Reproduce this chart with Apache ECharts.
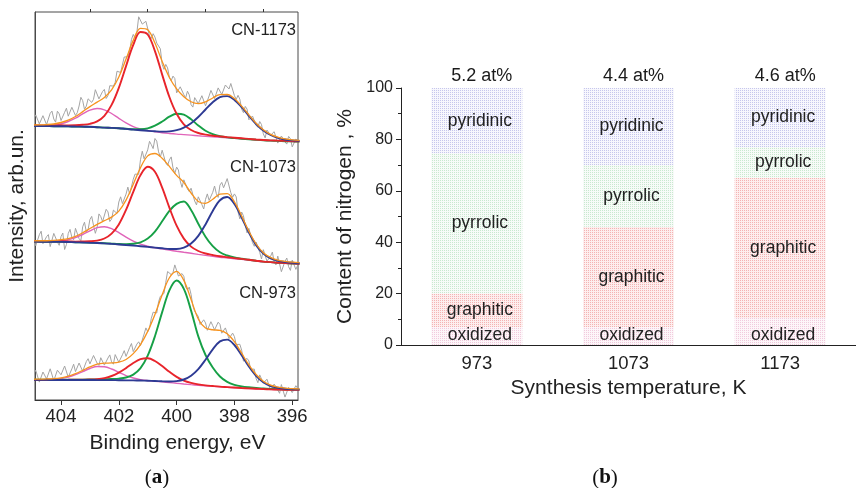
<!DOCTYPE html>
<html>
<head>
<meta charset="utf-8">
<script src="https://cdn.jsdelivr.net/npm/echarts@6/dist/echarts.min.js"></script>
<style>
  html, body { margin: 0; padding: 0; background: #ffffff; }
  #chart { width: 856px; height: 488px; }
</style>
</head>
<body>
<div id="chart"></div>
<script>
// ---------- (a) N 1s XPS spectra ----------
// Binding energy grid of the fitted curves (eV)
const energyFit = [405, 404.75, 404.5, 404.25, 404, 403.75, 403.5, 403.25, 403, 402.75, 402.5, 402.25, 402,
  401.75, 401.5, 401.25, 401, 400.75, 400.5, 400.25, 400, 399.75, 399.5, 399.25, 399, 398.75, 398.5, 398.25,
  398, 397.75, 397.5, 397.25, 397, 396.75, 396.5, 396.25, 396, 395.75];

// Binding energy grid of the measured spectra (eV)
const energyRaw = [405, 404.9375, 404.875, 404.8125, 404.75, 404.6875, 404.625, 404.5625, 404.5, 404.4375,
  404.375, 404.3125, 404.25, 404.1875, 404.125, 404.0625, 404, 403.9375, 403.875, 403.8125, 403.75, 403.6875,
  403.625, 403.5625, 403.5, 403.4375, 403.375, 403.3125, 403.25, 403.1875, 403.125, 403.0625, 403, 402.9375,
  402.875, 402.8125, 402.75, 402.6875, 402.625, 402.5625, 402.5, 402.4375, 402.375, 402.3125, 402.25, 402.1875,
  402.125, 402.0625, 402, 401.9375, 401.875, 401.8125, 401.75, 401.6875, 401.625, 401.5625, 401.5, 401.4375,
  401.375, 401.3125, 401.25, 401.1875, 401.125, 401.0625, 401, 400.9375, 400.875, 400.8125, 400.75, 400.6875,
  400.625, 400.5625, 400.5, 400.4375, 400.375, 400.3125, 400.25, 400.1875, 400.125, 400.0625, 400, 399.9375,
  399.875, 399.8125, 399.75, 399.6875, 399.625, 399.5625, 399.5, 399.4375, 399.375, 399.3125, 399.25, 399.1875,
  399.125, 399.0625, 399, 398.9375, 398.875, 398.8125, 398.75, 398.6875, 398.625, 398.5625, 398.5, 398.4375,
  398.375, 398.3125, 398.25, 398.1875, 398.125, 398.0625, 398, 397.9375, 397.875, 397.8125, 397.75, 397.6875,
  397.625, 397.5625, 397.5, 397.4375, 397.375, 397.3125, 397.25, 397.1875, 397.125, 397.0625, 397, 396.9375,
  396.875, 396.8125, 396.75, 396.6875, 396.625, 396.5625, 396.5, 396.4375, 396.375, 396.3125, 396.25, 396.1875,
  396.125, 396.0625, 396, 395.9375, 395.875, 395.8125, 395.75];

// CN-1173 (stacked on top, arb. units)
const bg1173 = [274, 273.9, 273.8, 273.7, 273.7, 273.5, 273.3, 273.2, 273.0, 272.6, 272.2, 271.9, 271.5, 270.8,
  270.0, 269.3, 268.5, 267.8, 267.0, 266.3, 265.7, 265.2, 264.7, 264.1, 263.5, 263.0, 262.5, 262.0, 261.5,
  261.0, 260.5, 260.0, 259.5, 259.2, 259.0, 258.7, 258.5, 258.3];
const oxid1173 = [0.3, 0.4, 0.7, 1.3, 2.6, 5.0, 8.5, 12.9, 16.9, 18.9, 18.0, 14.6, 10.2, 6.3, 3.4, 1.7, 0.9, 0.5,
  0.3, 0.25, 0.2, 0.2, 0.15, 0.1, 0.1, 0.1, 0.1, 0.1, 0.1, 0.1, 0.1, 0.1, 0.1, 0.1, 0.1, 0.1, 0.1, 0.1];
const graph1173 = [0.5, 0.6, 0.7, 0.8, 1.0, 1.1, 1.4, 2.0, 3.2, 6.0, 12.0, 23.2, 40.7, 63.1, 85.1, 98.7, 97.0,
  81.1, 58.4, 36.7, 20.5, 10.5, 5.3, 2.9, 1.9, 1.3, 1.1, 0.9, 0.8, 0.7, 0.6, 0.5, 0.5, 0.4, 0.4, 0.4, 0.3, 0.3];
const pyrr1173 = [0.1, 0.1, 0.1, 0.1, 0.1, 0.1, 0.1, 0.1, 0.1, 0.2, 0.2, 0.2, 0.3, 0.4, 0.7, 1.5, 3.2, 6.6, 11.5,
  17.0, 20.6, 20.2, 16.0, 10.4, 5.7, 2.8, 1.3, 0.6, 0.4, 0.3, 0.25, 0.2, 0.2, 0.15, 0.15, 0.1, 0.1, 0.1];
const pyri1173 = [0.1, 0.1, 0.1, 0.1, 0.1, 0.1, 0.15, 0.15, 0.2, 0.2, 0.2, 0.25, 0.3, 0.35, 0.4, 0.5, 0.7, 0.9,
  1.4, 2.3, 4.1, 7.2, 12.1, 18.9, 27.0, 34.8, 40.4, 41.9, 38.6, 31.8, 23.7, 16.0, 9.9, 5.8, 3.2, 1.8, 1.1, 0.8];
const raw1173 = [278, 276.6, 285.1, 284.6, 276.1, 274.2, 284.3, 282.9, 275.4, 277.1, 286.7, 288.9, 281, 277.9,
  288.8, 286.2, 279.5, 280.6, 287.7, 291.8, 283.8, 283.3, 292.7, 292.6, 284.5, 287.3, 294, 302.7, 299.4, 290.7,
  293.9, 301.2, 302.4, 297.6, 300.7, 310.3, 309.9, 301.1, 302.3, 308.5, 310.6, 301.5, 304.4, 314.3, 316.2,
  313.9, 317.6, 328.8, 330, 327.5, 329, 343, 345, 343.2, 349.3, 360.5, 365.6, 361.7, 367.7, 383.2, 384.7,
  375.9, 375, 378.7, 378.3, 364, 361.6, 366.3, 362.9, 356.9, 356.8, 351.2, 335.6, 330.6, 335.6, 332.1, 322.6,
  319.3, 323.9, 321.5, 307.1, 308.2, 313.2, 313.3, 305.3, 302.1, 308.8, 305.1, 295.3, 292.9, 302.4, 303.4,
  296.4, 297.4, 304.3, 304.3, 294.2, 295.2, 304.1, 309.6, 311, 301.4, 301.7, 312.1, 310.4, 305.5, 306.5, 315,
  315.5, 311, 316.5, 317.5, 304.4, 300.6, 304.7, 300.8, 290.9, 287.3, 293.6, 290.9, 280.2, 279.1, 284, 284.4,
  274.8, 272.7, 278.5, 275.4, 266.2, 262.1, 270, 271.4, 264.7, 263.5, 268.3, 267.6, 256.9, 258.5, 264, 265.1,
  258.1, 255.9, 263.6, 261.4, 253.1, 253, 260.9, 261.3, 257.6];

// CN-1073 (middle)
const bg1073 = [158.3, 158.2, 158.1, 158.0, 158.0, 157.8, 157.5, 157.3, 157.0, 156.7, 156.3, 155.8, 155.2, 154.6,
  154.0, 153.3, 152.5, 151.6, 150.7, 149.6, 148.5, 147.5, 146.5, 145.5, 144.5, 143.6, 142.7, 142.0, 141.2,
  140.5, 139.7, 138.8, 138.0, 137.5, 137.0, 136.7, 136.3, 136.0];
const oxid1073 = [0.25, 0.3, 0.4, 0.6, 1.3, 2.5, 4.8, 8.2, 12.2, 15.6, 17.0, 15.6, 12.2, 8.2, 4.8, 2.5, 1.3, 0.6,
  0.4, 0.3, 0.25, 0.2, 0.2, 0.15, 0.15, 0.1, 0.1, 0.1, 0.1, 0.1, 0.1, 0.1, 0.1, 0.1, 0.1, 0.1, 0.1, 0.1];
const graph1073 = [0.4, 0.5, 0.5, 0.6, 0.7, 0.8, 0.9, 1.2, 1.7, 2.7, 5.2, 10.6, 20.4, 35.5, 54.2, 71.6, 80.8,
  76.7, 61.7, 42.7, 25.8, 13.9, 6.9, 3.5, 2.0, 1.4, 1.0, 0.8, 0.7, 0.6, 0.5, 0.5, 0.4, 0.4, 0.3, 0.3, 0.3, 0.3];
const pyrr1073 = [0.15, 0.15, 0.15, 0.2, 0.2, 0.2, 0.25, 0.3, 0.35, 0.4, 0.5, 0.6, 0.8, 1.2, 2.2, 4.4, 8.9, 16.8,
  28.0, 39.6, 47.6, 51.0, 43.5, 30.8, 18.8, 10.2, 5.0, 2.5, 1.3, 0.8, 0.6, 0.5, 0.4, 0.35, 0.3, 0.3, 0.25, 0.2];
const pyri1073 = [0.1, 0.1, 0.1, 0.15, 0.15, 0.15, 0.2, 0.2, 0.2, 0.25, 0.3, 0.3, 0.35, 0.4, 0.45, 0.5, 0.6, 0.8,
  1.0, 1.4, 2.5, 4.9, 9.9, 18.6, 31.1, 45.4, 57.1, 61.0, 54.8, 42.0, 27.8, 16.1, 8.4, 4.2, 2.2, 1.3, 0.9, 0.7];
const raw1073 = [161.2, 163.7, 154.2, 152.8, 165.3, 168.8, 156.3, 155.8, 163.3, 165.4, 153.4, 152, 166.6, 166.3,
  158.0, 154.7, 163.4, 167, 150.5, 155.5, 166.5, 170.6, 162.6, 160.2, 171.7, 170.6, 161.4, 159.3, 173.2, 177.8,
  168.3, 170.4, 180.5, 183.6, 174.6, 166.7, 172.7, 186.1, 183.5, 178.4, 179.3, 190.7, 188.1, 178.5, 180.9,
  189.9, 190.9, 186.5, 198.0, 203.2, 196.4, 197.2, 205.9, 212.9, 205.8, 207.3, 220.7, 225.9, 225.0, 225.7,
  240.3, 248.8, 241.2, 241.7, 250.1, 258.7, 255.3, 251.4, 261.5, 258.9, 248.2, 243, 249.8, 251.4, 237.0,
  234.6, 240.1, 243.1, 232.0, 226.5, 232.9, 230, 219.0, 212.6, 220.2, 221.6, 211.0, 208.4, 211.8, 213.4,
  199.0, 195.1, 203.2, 203.3, 195.4, 191, 200.6, 206.1, 199.6, 199.7, 207.7, 214, 206.3, 202.6, 214.9, 217.6,
  212.2, 210.8, 221.4, 221.4, 207.3, 202.7, 206.1, 203.1, 188.1, 181.1, 188.0, 184.2, 174.4, 167.1, 171.7,
  171.6, 157.4, 153.7, 158.0, 158.9, 147.7, 141, 150.3, 148.6, 138.9, 138.3, 143.6, 147.9, 138.2, 135.1,
  143.9, 144.1, 128.3, 129.5, 138.7, 142, 133.3, 129.6, 139.9, 139.3, 130.6, 131.5, 138.3];

// CN-973 (bottom)
const bg973 = [20.0, 20.0, 20.0, 19.9, 19.9, 19.9, 19.9, 19.8, 19.8, 19.7, 19.6, 19.6, 19.5, 19.3, 19.2, 19.0,
  18.7, 18.3, 17.8, 17.2, 16.5, 15.8, 15.2, 14.6, 14.0, 13.5, 13.0, 12.6, 12.2, 11.8, 11.4, 11.1, 10.8, 10.5,
  10.3, 10.1, 10.0, 10.0];
const oxid973 = [0.25, 0.3, 0.45, 0.8, 1.5, 3.0, 5.4, 8.6, 11.7, 13.8, 13.6, 11.4, 8.2, 5.1, 2.8, 1.4, 0.7, 0.4,
  0.3, 0.25, 0.2, 0.2, 0.15, 0.15, 0.15, 0.1, 0.1, 0.1, 0.1, 0.1, 0.1, 0.1, 0.1, 0.1, 0.1, 0.1, 0.1, 0.1];
const graph973 = [0.15, 0.15, 0.2, 0.2, 0.25, 0.3, 0.4, 0.5, 0.7, 1.2, 2.3, 4.4, 7.9, 12.6, 17.8, 21.8, 23.0,
  20.7, 16.1, 11.0, 6.6, 3.6, 1.9, 1.0, 0.6, 0.45, 0.35, 0.3, 0.25, 0.2, 0.2, 0.2, 0.15, 0.15, 0.15, 0.1, 0.1, 0.1];
const pyrr973 = [0.25, 0.3, 0.3, 0.35, 0.4, 0.45, 0.5, 0.6, 0.7, 0.9, 1.1, 1.4, 1.9, 3.2, 6.2, 12.8, 25.7, 45.5,
  70.1, 92.5, 103.0, 95.3, 74.2, 49.0, 31.0, 19.0, 10.5, 5.5, 3.0, 1.8, 1.3, 1.0, 0.7, 0.6, 0.5, 0.45, 0.4, 0.35];
const pyri973 = [0.1, 0.1, 0.1, 0.1, 0.1, 0.15, 0.15, 0.15, 0.2, 0.2, 0.25, 0.25, 0.3, 0.35, 0.4, 0.45, 0.55, 0.7,
  0.9, 1.3, 2.4, 4.7, 9.1, 16.3, 26.3, 37.2, 45.6, 47.8, 42.8, 32.9, 22.1, 13.1, 7.0, 3.5, 1.9, 1.1, 0.8, 0.6];
const raw973 = [22.8, 21.3, 29.8, 27.9, 17.9, 17, 28.0, 29.6, 21.1, 22.2, 31.2, 31.3, 19.4, 19.6, 29.8, 30.5,
  25.2, 23.6, 34.0, 32.4, 22.8, 22, 31.1, 35.8, 28.4, 29.7, 37.0, 37.9, 28.7, 27.6, 38.4, 41.3, 36.1, 36.3,
  44.5, 45.7, 36.8, 34.6, 42.3, 41.6, 34.9, 34.5, 42.0, 45.1, 38.1, 35.8, 45.4, 45.6, 37.8, 38.5, 45.2, 49.4,
  43.6, 44.1, 52.5, 56.5, 48.4, 47.2, 55.9, 58.2, 54.5, 56.2, 65.9, 72.1, 68.3, 72, 81.6, 87.8, 85.9, 87,
  98.1, 103.7, 103.2, 106.5, 117.7, 128.5, 129.3, 125.4, 127.5, 135.1, 134.7, 124, 123.2, 126.4, 123.6, 112.9,
  110.1, 112.9, 105.6, 94.1, 88.6, 90.1, 83.6, 75.5, 77.3, 80.2, 77.1, 69.7, 70.2, 78.3, 74.3, 70.1, 71.9,
  77.8, 75.6, 66.8, 67.9, 72.1, 70.3, 61.3, 60.3, 66.9, 63.4, 55.5, 53.6, 55.7, 49.8, 38.9, 38.0, 41.6, 39.1,
  30.7, 30.3, 30.9, 21.5, 17.3, 25.1, 24, 16.8, 14.8, 20.8, 20.4, 9.9, 9.9, 15.9, 17, 10.0, 6.7, 15.4, 14.2,
  2.9, 4.8, 12.6, 14, 7.4, 5.9, 14.3, 14.8, 9.2];

const sampleNames = ['CN-1173', 'CN-1073', 'CN-973'];
const energyTicks = [396, 398, 400, 402, 404];
const energyMinorTicks = [397, 399, 401, 403];

// ---------- (b) nitrogen speciation ----------
const temperatures = ['973', '1073', '1173'];
const oxidized = [7, 7, 10.5];
const graphitic = [13, 39, 54.5];
const pyrrolic = [54.5, 24, 12];
const pyridinic = [25.5, 30, 23];
const totalNitrogen = [5.2, 4.4, 4.6]; // at%

const FONT = 'Liberation Sans, Arial, Helvetica, sans-serif';

const spectra = [
  { name: sampleNames[0], bg: bg1173, raw: raw1173, oxid: oxid1173, graph: graph1173, pyrr: pyrr1173, pyri: pyri1173 },
  { name: sampleNames[1], bg: bg1073, raw: raw1073, oxid: oxid1073, graph: graph1073, pyrr: pyrr1073, pyri: pyri1073 },
  { name: sampleNames[2], bg: bg973, raw: raw973, oxid: oxid973, graph: graph973, pyrr: pyrr973, pyri: pyri973 }
];

function onBackground(bg, comp) {
  return energyFit.map((e, i) => [e, bg[i] + comp[i]]);
}
function envelope(bg, comps) {
  return energyFit.map((e, i) => [e, comps.reduce((s, c) => s + c[i], bg[i])]);
}

const componentStyles = [
  { key: 'oxid', color: '#e064b9', width: 1.4, z: 3 },
  { key: 'pyrr', color: '#16a046', width: 1.9, z: 4 },
  { key: 'graph', color: '#e8242b', width: 1.9, z: 5 },
  { key: 'pyri', color: '#2d3a94', width: 1.9, z: 6 }
];

const series = [];
spectra.forEach(s => {
  series.push({
    type: 'line', xAxisIndex: 0, yAxisIndex: 0, silent: true, showSymbol: false, z: 2,
    data: energyRaw.map((e, i) => [e, s.raw[i]]),
    lineStyle: { color: '#a4a4a4', width: 1 }
  });
  componentStyles.forEach(c => {
    series.push({
      type: 'line', xAxisIndex: 0, yAxisIndex: 0, silent: true, showSymbol: false, smooth: 0.35, z: c.z,
      data: onBackground(s.bg, s[c.key]),
      lineStyle: { color: c.color, width: c.width }
    });
  });
  series.push({
    type: 'line', xAxisIndex: 0, yAxisIndex: 0, silent: true, showSymbol: false, smooth: 0.35, z: 7,
    data: envelope(s.bg, [s.oxid, s.graph, s.pyrr, s.pyri]),
    lineStyle: { color: '#f7931e', width: 1.3 }
  });
});

// stacked composition bars (pale dotted fills)
const barParts = [
  { name: 'oxidized', data: oxidized, base: '#fdf6f9', dots: '#f1cadd', labelPos: 'insideBottom' },
  { name: 'graphitic', data: graphitic, base: '#fdeeee', dots: '#f4b3b3', labelPos: 'inside' },
  { name: 'pyrrolic', data: pyrrolic, base: '#f7fbf8', dots: '#c9e8cf', labelPos: 'inside' },
  { name: 'pyridinic', data: pyridinic, base: '#f7f7fd', dots: '#c6c6ec', labelPos: 'inside' }
];
barParts.forEach(p => {
  series.push({
    type: 'bar', name: p.name, xAxisIndex: 2, yAxisIndex: 1, stack: 'N', barWidth: '60%', silent: true,
    data: p.data,
    itemStyle: {
      color: p.base,
      decal: { symbol: 'rect', symbolSize: 1, dashArrayX: [1, 1], dashArrayY: [1, 1], color: p.dots }
    },
    label: {
      show: true, position: p.labelPos, distance: 1, offset: [3, 0], formatter: p.name,
      fontFamily: FONT, fontSize: 17.5, color: '#222'
    }
  });
});

// total nitrogen content above each bar
const barTops = temperatures.map((t, i) => oxidized[i] + graphitic[i] + pyrrolic[i] + pyridinic[i]);
series.push({
  type: 'scatter', xAxisIndex: 2, yAxisIndex: 1, silent: true, symbolSize: 0,
  itemStyle: { opacity: 1 },
  data: temperatures.map((t, i) => [t, barTops[i]]),
  label: {
    show: true, position: 'top', distance: 3, offset: [5, 0],
    formatter: p => totalNitrogen[p.dataIndex].toFixed(1) + ' at%',
    fontFamily: FONT, fontSize: 18, color: '#1a1a1a', opacity: 1
  }
});

const labelPositions = [30, 167, 293];

const option = {
  animation: false,
  backgroundColor: '#ffffff',
  textStyle: { fontFamily: FONT },
  grid: [
    { left: 35, top: 12, width: 263, height: 388, show: true, borderColor: '#4a4a4a', borderWidth: 1 },
    { left: 401, top: 88, width: 465, height: 257 }
  ],
  xAxis: [
    {
      type: 'value', gridIndex: 0, inverse: true, min: 395.8, max: 404.9,
      axisLine: { lineStyle: { color: '#333', width: 1 } },
      axisTick: { show: true, length: 5, customValues: energyTicks, lineStyle: { color: '#333' } },
      axisLabel: { customValues: energyTicks, fontSize: 18.5, color: '#222', margin: 7 },
      splitLine: { show: false },
      name: 'Binding energy, eV', nameLocation: 'middle', nameGap: 33,
      nameTextStyle: { fontSize: 21, color: '#222', padding: [0, 0, 0, 22] }
    },
    {
      type: 'value', gridIndex: 0, inverse: true, min: 395.8, max: 404.9,
      axisLine: { show: false },
      axisTick: { show: true, length: 3, customValues: energyMinorTicks, lineStyle: { color: '#333' } },
      axisLabel: { show: false },
      splitLine: { show: false }
    },
    {
      type: 'category', gridIndex: 1, data: temperatures,
      axisLine: { lineStyle: { color: '#222', width: 1 } },
      axisTick: { alignWithLabel: true, length: 5, lineStyle: { color: '#222' } },
      axisLabel: { fontSize: 18.5, color: '#222', margin: 9 },
      name: 'Synthesis temperature, K', nameLocation: 'middle', nameGap: 33,
      nameTextStyle: { fontSize: 21, color: '#222' }
    }
  ],
  yAxis: [
    {
      type: 'value', gridIndex: 0, min: 0, max: 388,
      axisLine: { show: true, lineStyle: { color: '#4a4a4a' } },
      axisTick: { show: false }, axisLabel: { show: false }, splitLine: { show: false },
      name: 'Intensity, arb.un.', nameLocation: 'middle', nameGap: 7,
      nameTextStyle: { fontSize: 21, color: '#222' }
    },
    {
      type: 'value', gridIndex: 1, min: 0, max: 100, interval: 20,
      axisLine: { show: true, lineStyle: { color: '#222' } },
      axisTick: { show: true, length: 5, lineStyle: { color: '#222' } },
      minorTick: { show: true, splitNumber: 2, length: 3, lineStyle: { color: '#222' } },
      axisLabel: { fontSize: 16, color: '#222', margin: 8 },
      splitLine: { show: false },
      name: 'Content of nitrogen , %', nameLocation: 'middle', nameGap: 38,
      nameTextStyle: { fontSize: 21, color: '#222' }
    }
  ],
  graphic: [
    ...sampleNames.map((n, i) => ({
      type: 'text', x: 296, y: labelPositions[i], silent: true,
      style: { text: n, fontFamily: FONT, fontSize: 16.5, fill: '#222', align: 'right', verticalAlign: 'middle' }
    })),
    ...['a', 'b'].map((letter, i) => ({
      type: 'text', x: i === 0 ? 157 : 605, y: 478, silent: true,
      style: {
        text: '{p|(}{l|' + letter + '}{p|)}', align: 'center', verticalAlign: 'middle',
        rich: {
          p: { fontFamily: 'Liberation Serif, DejaVu Serif, serif', fontSize: 21, fill: '#111' },
          l: { fontFamily: 'Liberation Serif, DejaVu Serif, serif', fontSize: 21, fontWeight: 'bold', fill: '#111' }
        }
      }
    }))
  ],
  series: series
};

const chart = echarts.init(document.getElementById('chart'), null, { renderer: 'canvas' });
chart.setOption(option);
</script>
</body>
</html>
